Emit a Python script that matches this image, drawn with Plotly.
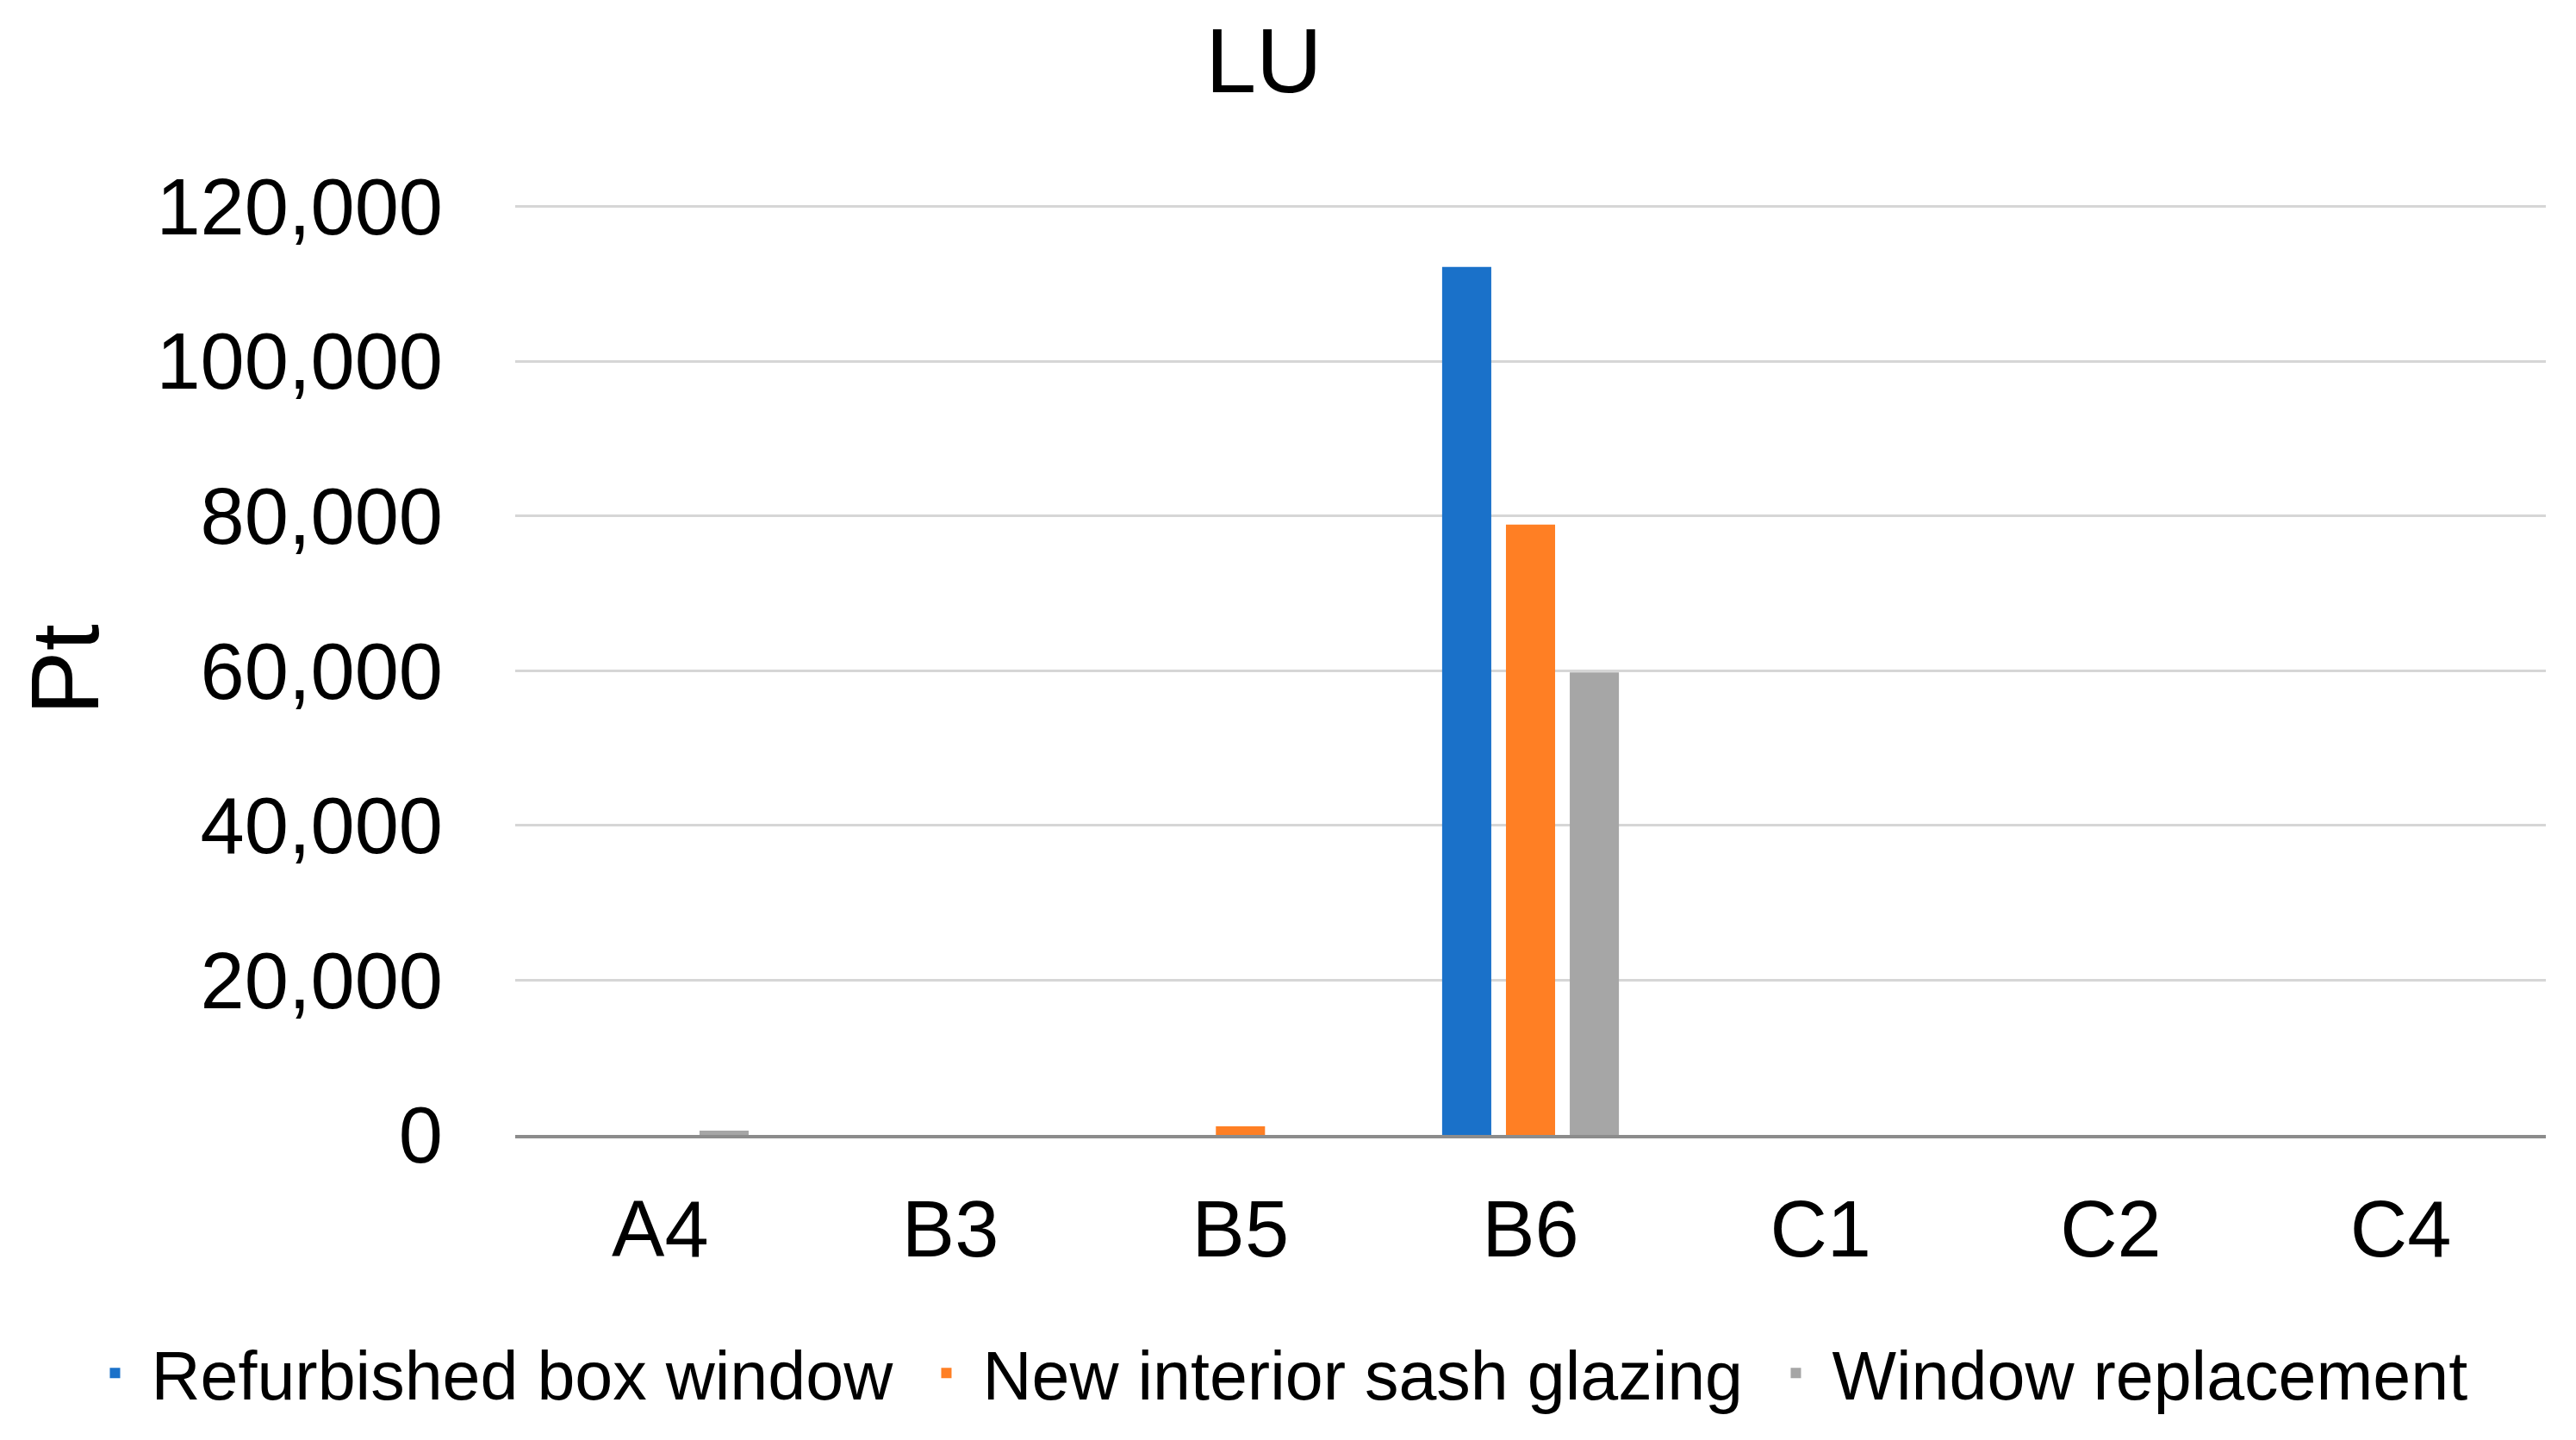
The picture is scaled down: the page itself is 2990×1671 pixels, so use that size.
import plotly.graph_objects as go

categories = ["A4", "B3", "B5", "B6", "C1", "C2", "C4"]
refurbished_box_window = [0, 0, 0, 112200, 0, 0, 0]
new_interior_sash_glazing = [0, 0, 1100, 78900, 0, 0, 0]
window_replacement = [550, 0, 0, 59800, 0, 0, 0]
y_ticks = [0, 20000, 40000, 60000, 80000, 100000, 120000]
y_tick_labels = ["0", "20,000", "40,000", "60,000", "80,000", "100,000", "120,000"]

series = [
    ("Refurbished box window", refurbished_box_window, "#1A71C9", 876),
    ("New interior sash glazing", new_interior_sash_glazing, "#FF7F24", 897),
    ("Window replacement", window_replacement, "#A6A6A6", None),
]

FONT = "Liberation Sans, Arial, sans-serif"

fig = go.Figure()
for name, vals, col, lw in series:
    fig.add_trace(go.Bar(
        x=categories, y=vals, name=name,
        marker=dict(color=col, line=dict(width=0)),
        legendwidth=lw,
    ))

fig.update_layout(
    width=2990, height=1671,
    paper_bgcolor="white", plot_bgcolor="white",
    barmode="group", bargap=0.34, bargroupgap=0.23,
    margin=dict(l=598, r=35, t=237, b=354, autoexpand=False),
    font=dict(family=FONT, color="#000000"),
    title=dict(text="LU", font=dict(size=106, family=FONT, color="#000000"),
               x=0.4906, xanchor="center", xref="container",
               y=0.958, yanchor="middle", yref="container"),
    showlegend=True,
    legend=dict(orientation="h", xref="paper", yref="paper",
                x=-0.2149, xanchor="left", y=-0.256, yanchor="middle",
                itemwidth=74,
                font=dict(size=79, family=FONT, color="#000000"),
                bgcolor="rgba(0,0,0,0)", traceorder="normal"),
)

fig.update_yaxes(
    range=[0, 120300], tickvals=y_ticks, ticktext=y_tick_labels,
    showgrid=True, gridcolor="#D6D6D6", gridwidth=3,
    zeroline=False, showline=False, ticks="",
    tickfont=dict(size=92, family=FONT, color="#000000"),
    ticklabelstandoff=83,
    title=dict(text="Pt", font=dict(size=112, family=FONT, color="#000000"), standoff=29),
    automargin=False,
)
fig.update_xaxes(
    showgrid=False, showline=True, linecolor="#8C8C8C", linewidth=4,
    ticks="", tickfont=dict(size=92, family=FONT, color="#000000"),
    ticklabelstandoff=27, automargin=False,
)

fig.write_html("out.html", config={"displayModeBar": False},
               post_script="document.body.style.margin='0px';")
